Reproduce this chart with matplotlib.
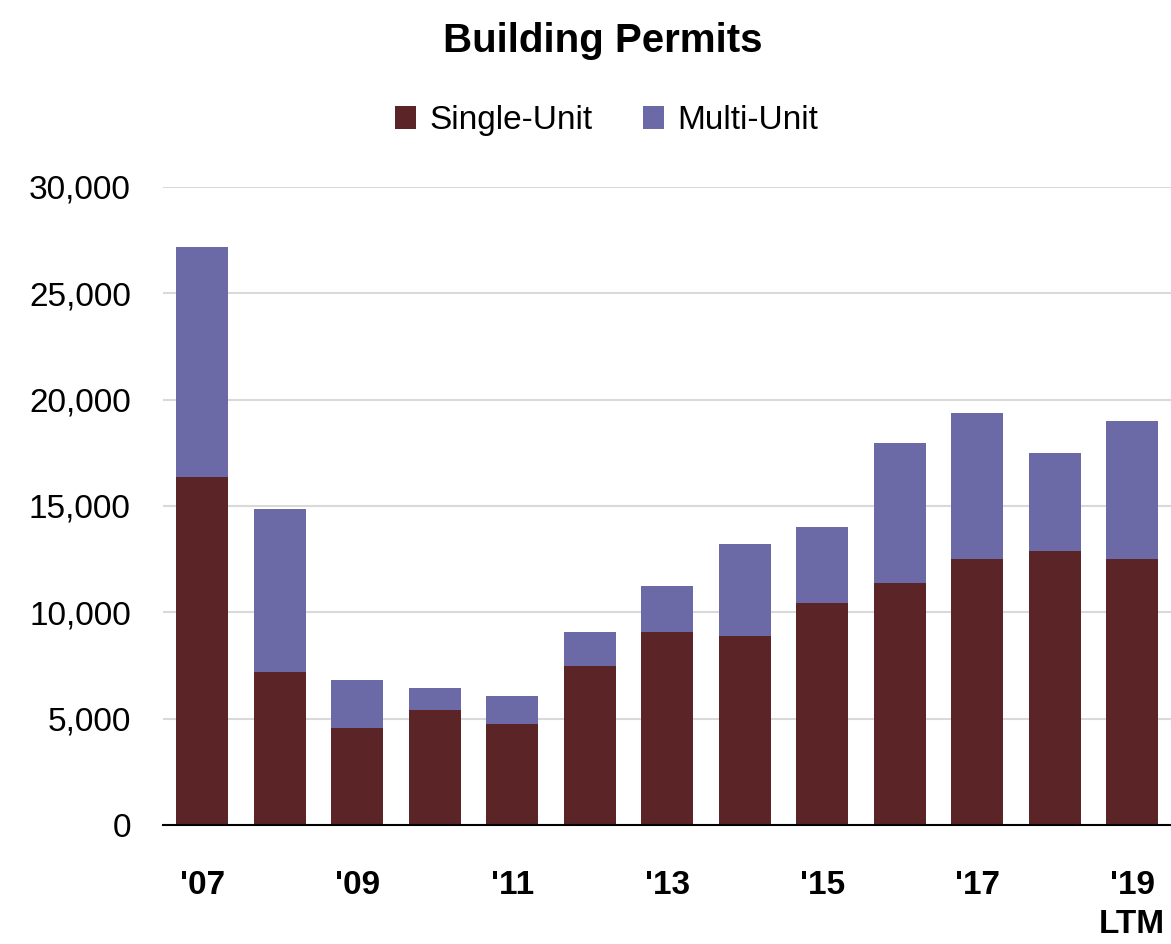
import matplotlib.pyplot as plt
from matplotlib.ticker import FuncFormatter

plt.rcParams['font.family'] = ['Liberation Sans', 'DejaVu Sans']

years = ["'07", "'08", "'09", "'10", "'11", "'12", "'13", "'14", "'15", "'16", "'17", "'18", "'19\nLTM"]
single_unit = [16380, 7200, 4550, 5400, 4740, 7460, 9060, 8870, 10450, 11390, 12510, 12880, 12510]
multi_unit = [10780, 7660, 2260, 1030, 1310, 1600, 2160, 4320, 3580, 6580, 6870, 4620, 6500]

single_color = "#5B2426"
multi_color = "#6B69A6"

fig = plt.figure(figsize=(11.71, 9.44), dpi=100)
ax = fig.add_axes([0.139, 0.126, 0.861, 0.676])

x = range(len(years))
ax.bar(x, single_unit, width=0.67, color=single_color, label="Single-Unit", zorder=3)
ax.bar(x, multi_unit, width=0.67, bottom=single_unit, color=multi_color, label="Multi-Unit", zorder=3)

ax.set_xlim(-0.51, 12.5)
ax.set_ylim(0, 30000)
ax.set_yticks(range(0, 30001, 5000))
ax.yaxis.set_major_formatter(FuncFormatter(lambda v, p: f"{int(v):,}"))
ax.grid(axis="y", color="#D9D9D9", linewidth=1.5, zorder=0)

ax.set_xticks(list(x)[::2])
ax.set_xticklabels(years[::2], fontweight="bold", fontsize=24, linespacing=1.35)
ax.tick_params(axis="x", length=0, pad=32)
ax.tick_params(axis="y", length=0, labelsize=24, pad=23)

for side in ["top", "right", "left"]:
    ax.spines[side].set_visible(False)
ax.spines["bottom"].set_color("black")
ax.spines["bottom"].set_linewidth(1.5)
ax.spines["bottom"].set_zorder(4)

fig.text(0.515, 0.957, "Building Permits", ha="center", va="center",
         fontsize=29, fontweight="bold")
fig.legend(loc="center", bbox_to_anchor=(0.518, 0.872), ncol=2, frameon=False,
           fontsize=24, handlelength=0.65, handleheight=0.65, handletextpad=0.4,
           columnspacing=1.5)

fig.savefig("out.png", dpi=100)
